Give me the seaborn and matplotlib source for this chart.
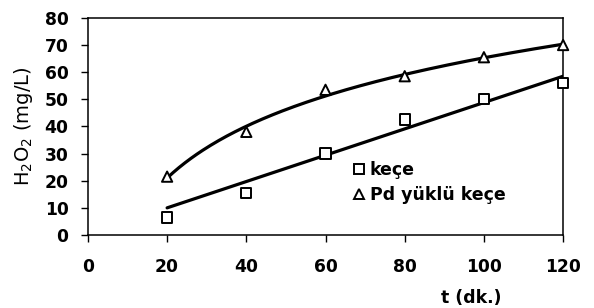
import numpy as np
import pandas as pd
import seaborn as sns
from matplotlib import pyplot as plt
from matplotlib.lines import Line2D

# sampling times (min) and H2O2 concentrations
t = [20, 40, 60, 80, 100, 120]
kece = [6.5, 15.5, 30, 42.5, 50, 56]
pd_kece = [21.5, 38, 53.5, 58.5, 65.5, 70]
# straight trend line of keçe, as read at its two ends
trend_t = [20, 120]
trend_kece = [10, 58.5]
x_ticks = [0, 20, 40, 60, 80, 100, 120]
y_ticks = [0, 10, 20, 30, 40, 50, 60, 70, 80]

sns.set_style("ticks", {'axes.edgecolor': 'black', 'text.color': 'black',
                        'xtick.color': 'black', 'ytick.color': 'black',
                        'axes.labelcolor': 'black'})
plt.rcParams['font.family'] = ['DejaVu Sans']
plt.rcParams['mathtext.fontset'] = 'dejavusans'

df = pd.DataFrame({'t': t * 2,
                   'y': kece + pd_kece,
                   'seri': ['keçe'] * 6 + ['Pd yüklü keçe'] * 6})

fig, ax = plt.subplots(figsize=(5.94, 3.08), dpi=100)
fig.subplots_adjust(left=0.148, right=0.948, top=0.942, bottom=0.237)

# trend lines: straight for keçe, logarithmic (excel style) for Pd
sns.lineplot(x=trend_t, y=trend_kece, color='black', lw=2.3, ax=ax)
xs = np.linspace(20, 120, 200)
q = np.polyfit(np.log(t), pd_kece, 1)
sns.lineplot(x=xs, y=q[0] * np.log(xs) + q[1], color='black', lw=2.3, ax=ax)

sns.scatterplot(data=df, x='t', y='y', hue='seri', style='seri',
                markers={'keçe': 's', 'Pd yüklü keçe': '^'},
                palette={'keçe': 'white', 'Pd yüklü keçe': 'white'},
                edgecolor='black', linewidth=1.4, s=55, ax=ax, zorder=3,
                legend=False, clip_on=False)

# legend with open-marker proxies
handles = [Line2D([], [], ls='none', marker='s', ms=6.5, mfc='white', mec='black', mew=1.4),
           Line2D([], [], ls='none', marker='^', ms=7, mfc='white', mec='black', mew=1.4)]
leg = ax.legend(handles, ['keçe', 'Pd yüklü keçe'], loc='center left',
                bbox_to_anchor=(0.56, 0.242), frameon=False,
                prop={'size': 12.5, 'weight': 'bold'},
                handlelength=0.6, handletextpad=0.3, labelspacing=0.4,
                borderpad=0, borderaxespad=0)

ax.set_xlim(0, 120)
ax.set_ylim(0, 80)
ax.set_xticks(x_ticks)
ax.set_yticks(y_ticks)
ax.tick_params(axis='x', length=5, width=1, pad=11.5, labelsize=12.3)
ax.tick_params(axis='y', length=5, width=1, pad=9, labelsize=12.3)
for lab in ax.get_xticklabels() + ax.get_yticklabels():
    lab.set_fontweight('bold')
for s in ax.spines.values():
    s.set_linewidth(1.1)
    s.set_visible(True)

ax.set_xlabel('t (dk.)', fontsize=12.5, fontweight='bold')
ax.xaxis.set_label_coords(0.806, -0.25)
ax.set_ylabel(r'H$_2$O$_2$ (mg/L)', fontsize=14)
ax.yaxis.set_label_coords(-0.112, 0.5)

plt.savefig('out.png', dpi=100)
plt.close()
